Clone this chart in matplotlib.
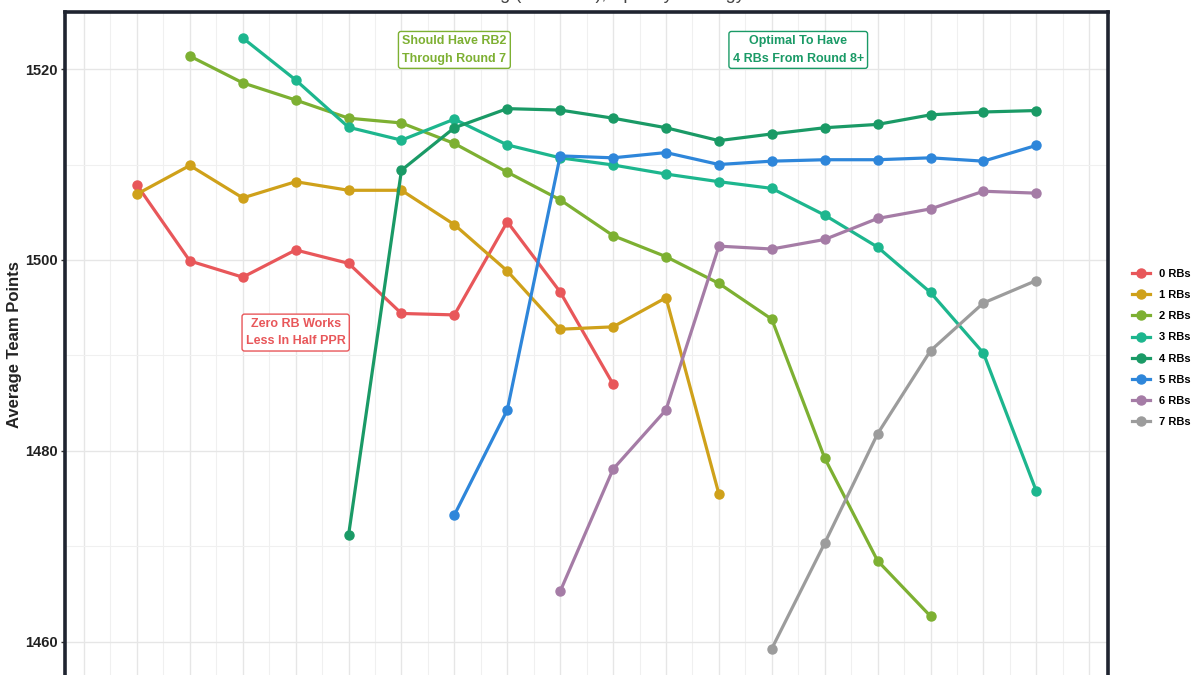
import matplotlib
matplotlib.use("Agg")
from matplotlib import pyplot as plt
from matplotlib.ticker import MultipleLocator

plt.rcParams["font.family"] = ["Liberation Sans", "DejaVu Sans"]

rounds = list(range(1, 19))

rb0 = [1507.85, 1499.9, 1498.2, 1501.05, 1499.65, 1494.4, 1494.25, 1504.0, 1496.65, 1487.0]
rb1 = [1506.9, 1509.9, 1506.5, 1508.2, 1507.3, 1507.3, 1503.7, 1498.85, 1492.75, 1493.0, 1496.05, 1475.5]
rb2 = [1521.35, 1518.55, 1516.75, 1514.85, 1514.35, 1512.2, 1509.2, 1506.3, 1502.55, 1500.35,
       1497.55, 1493.8, 1479.25, 1468.5, 1462.7]
rb3 = [1523.25, 1518.85, 1513.9, 1512.55, 1514.75, 1512.05, 1510.7, 1509.95, 1509.0, 1508.2,
       1507.5, 1504.7, 1501.35, 1496.6, 1490.25, 1475.8]
rb4 = [1471.2, 1509.4, 1513.85, 1515.85, 1515.7, 1514.85, 1513.85, 1512.5, 1513.2, 1513.85,
       1514.2, 1515.2, 1515.5, 1515.65]
rb5 = [1473.3, 1484.3, 1510.9, 1510.7, 1511.25, 1510.0, 1510.35, 1510.5, 1510.5, 1510.7,
       1510.35, 1512.0]
rb6 = [1465.3, 1478.1, 1484.3, 1501.45, 1501.15, 1502.15, 1504.35, 1505.35, 1507.2, 1507.0]
rb7 = [1459.3, 1470.35, 1481.8, 1490.5, 1495.5, 1497.85]

series = [rb0, rb1, rb2, rb3, rb4, rb5, rb6, rb7]
labels = ["0 RBs", "1 RBs", "2 RBs", "3 RBs", "4 RBs", "5 RBs", "6 RBs", "7 RBs"]
# first round where each series starts
starts = [1, 1, 2, 3, 5, 7, 9, 13]
colors = ["#E8575A", "#CFA11A", "#7DB032", "#1DB68E", "#1A9A66", "#2E86DA", "#A57CA6", "#9C9C9C"]

notes = [("Should Have RB2\nThrough Round 7", 7.0, 1522.0, 2),
         ("Optimal To Have\n4 RBs From Round 8+", 13.5, 1522.0, 4),
         ("Zero RB Works\nLess In Half PPR", 4.0, 1492.4, 0)]

fig = plt.figure(figsize=(12, 6.75), dpi=100)
ax = fig.add_axes([65 / 1200, 1 - 690 / 675, 1043 / 1200, 678 / 675])

for vals, start, lab, col in zip(series, starts, labels, colors):
    xs = rounds[start - 1:start - 1 + len(vals)]
    ax.plot(xs, vals, color=col, lw=2.3, marker="o", ms=6.5, label=lab, zorder=3)

for txt, x, y, idx in notes:
    ax.text(x, y, txt, ha="center", va="center", fontsize=9, fontweight="bold",
            color=colors[idx], linespacing=1.6, zorder=4,
            bbox=dict(boxstyle="round,pad=0.3,rounding_size=0.2", fc="white",
                      ec=colors[idx], lw=1.0))

ax.set_xlim(-0.36, 19.355)
ax.set_ylim(1454.97, 1525.97)
ax.xaxis.set_major_locator(MultipleLocator(1))
ax.xaxis.set_minor_locator(MultipleLocator(0.5))
ax.yaxis.set_major_locator(MultipleLocator(20))
ax.yaxis.set_minor_locator(MultipleLocator(10))
ax.grid(which="major", color="#e6e6e6", lw=1.0)
ax.grid(which="minor", color="#f0f0f0", lw=0.8)
ax.set_axisbelow(True)
ax.tick_params(axis="y", which="major", length=3, width=1, color="#333333", pad=2)
ax.tick_params(axis="y", which="minor", length=0)
ax.tick_params(axis="x", which="both", length=0, labelbottom=False)
for lab in ax.get_yticklabels():
    lab.set_fontweight("bold")
    lab.set_fontsize(10.5)
    lab.set_color("#222222")
for sp in ax.spines.values():
    sp.set_linewidth(2.6)
    sp.set_color("#1f2430")

ax.set_ylabel("Average Team Points", fontsize=12, fontweight="bold", color="#222222")
ax.yaxis.set_label_coords(-0.041, 0.51)

leg = fig.legend(loc="center left", bbox_to_anchor=(1122 / 1200, 1 - 348 / 675), frameon=False,
                 prop={"size": 8, "weight": "bold"}, handlelength=1.6, labelspacing=1.0)

# title sits mostly above the visible area, only its descenders show
fig.text(745 / 1200, 1 + 1.2 / 675, "RB Drafting (Half PPR), Split By Strategy",
         ha="right", va="baseline", fontsize=13, color="#444444")

fig.savefig("out.png", dpi=100)
